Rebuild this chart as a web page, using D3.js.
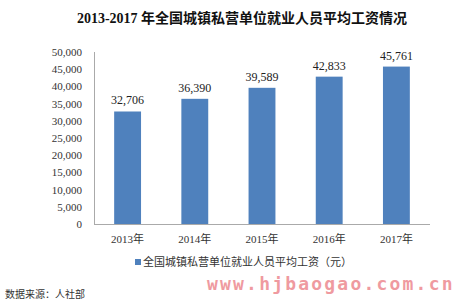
<!DOCTYPE html>
<html>
<head>
<meta charset="utf-8">
<script src="https://cdn.jsdelivr.net/npm/d3@7"></script>
<style>
  body { margin: 0; background: #fff; }
  svg { display: block; }
</style>
</head>
<body>
<div class="canvas"></div>
<script>
// data
const years = ['2013年', '2014年', '2015年', '2016年', '2017年'];
const wages = [32706, 36390, 39589, 42833, 45761];
const yTicks = [0, 5000, 10000, 15000, 20000, 25000, 30000, 35000, 40000, 45000, 50000];
const seriesName = '全国城镇私营单位就业人员平均工资（元）';

const W = 456, H = 308;
const m = {t: 52, r: 26, b: 84, l: 94};

const svg = d3.select('.canvas').append('svg')
  .attr('width', W).attr('height', H);

const x = d3.scaleBand().domain(years).range([m.l, W - m.r]).paddingInner(0.6).paddingOuter(0.3);
const y = d3.scaleLinear().domain([0, 50000]).range([H - m.b, m.t]);

const serif = '"Liberation Serif", "Noto Sans CJK SC", serif';
const fmt = d3.format(',');

// title
svg.append('text')
  .attr('x', 242).attr('y', 23)
  .attr('text-anchor', 'middle')
  .style('font-family', serif)
  .style('font-weight', 'bold')
  .style('font-size', '14px')
  .attr('fill', '#111')
  .text('2013-2017 年全国城镇私营单位就业人员平均工资情况');

// y axis labels
svg.append('g').selectAll('text')
  .data(yTicks).enter().append('text')
  .attr('x', 82)
  .attr('y', d => y(d) + 4)
  .attr('text-anchor', 'end')
  .style('font-family', serif)
  .style('font-size', '11px')
  .attr('fill', '#333')
  .text(d => fmt(d));

// axis lines
svg.append('line')
  .attr('x1', m.l + 0.5).attr('x2', m.l + 0.5)
  .attr('y1', y(50000)).attr('y2', y(0))
  .attr('stroke', '#aaa');
svg.append('line')
  .attr('x1', m.l).attr('x2', W - m.r)
  .attr('y1', y(0) + 0.5).attr('y2', y(0) + 0.5)
  .attr('stroke', '#aaa');

// bars
svg.append('g').selectAll('rect')
  .data(wages).enter().append('rect')
  .attr('x', (d, i) => x(years[i]))
  .attr('y', d => y(d))
  .attr('width', x.bandwidth())
  .attr('height', d => y(0) - y(d))
  .attr('fill', '#4f81bd');

// value labels
svg.append('g').selectAll('text')
  .data(wages).enter().append('text')
  .attr('x', (d, i) => x(years[i]) + x.bandwidth() / 2)
  .attr('y', d => y(d) - 7)
  .attr('text-anchor', 'middle')
  .style('font-family', serif)
  .style('font-size', '12px')
  .attr('fill', '#222')
  .text(d => fmt(d));

// x labels
svg.append('g').selectAll('text')
  .data(years).enter().append('text')
  .attr('x', d => x(d) + x.bandwidth() / 2)
  .attr('y', y(0) + 19)
  .attr('text-anchor', 'middle')
  .style('font-family', serif)
  .style('font-size', '11px')
  .attr('fill', '#333')
  .text(d => d);

// legend
svg.append('rect')
  .attr('x', 135).attr('y', 259)
  .attr('width', 6).attr('height', 6)
  .attr('fill', '#4f81bd');
svg.append('text')
  .attr('x', 143).attr('y', 266)
  .style('font-family', '"Noto Sans CJK SC", sans-serif')
  .style('font-size', '11px')
  .attr('fill', '#333')
  .text(seriesName);

// watermark
svg.append('text')
  .attr('x', 207).attr('y', 290)
  .style('font-family', '"DejaVu Sans Mono", monospace')
  .style('font-weight', 'bold')
  .style('font-size', '18px')
  .style('letter-spacing', '2.2px')
  .attr('fill', '#ef9aa0')
  .text('www.hjbaogao.com.cn');

// source
svg.append('text')
  .attr('x', 5).attr('y', 298)
  .style('font-family', '"Noto Sans CJK SC", sans-serif')
  .style('font-size', '10px')
  .attr('fill', '#333')
  .text('数据来源：人社部');
</script>
</body>
</html>
